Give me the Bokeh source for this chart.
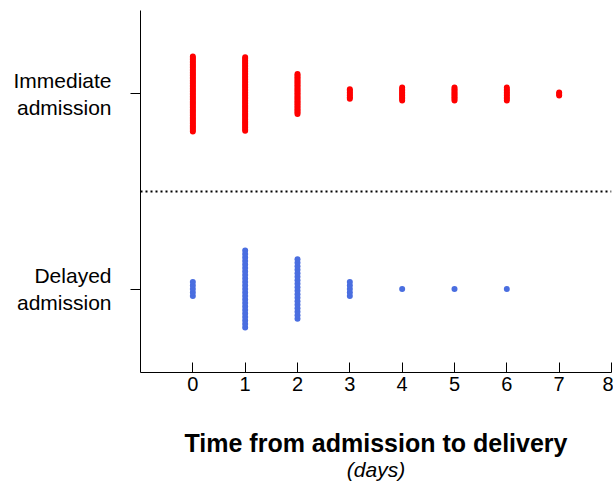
import numpy as np
from bokeh.plotting import figure
from bokeh.models import FixedTicker, Span, Title
from bokeh.embed import file_html
from bokeh.resources import INLINE

# Data: number of women per day (time from admission to delivery)
days = [0, 1, 2, 3, 4, 5, 6, 7]
immediate_counts = [48, 47, 26, 7, 9, 9, 9, 3]
delayed_counts = [5, 23, 18, 5, 1, 1, 1, 0]
group_labels = ["Immediate\nadmission", "Delayed\nadmission"]
group_pos = [1, -1]
x_ticks = [0, 1, 2, 3, 4, 5, 6, 7, 8]

FONT = "Liberation Sans"


def stack(counts, center, step):
    xs, ys = [], []
    for d, n in zip(days, counts):
        for i in range(n):
            xs.append(d)
            ys.append(center + (i - (n - 1) / 2) * step)
    return xs, ys


p = figure(width=613, height=483, x_range=(-1, 8), y_range=(-1.856, 1.856),
           output_backend="svg", toolbar_location=None,
           min_border_left=140, min_border_right=2, min_border_top=10,
           min_border_bottom=111)
p.outline_line_color = None
p.grid.visible = False
p.background_fill_color = "white"

xi, yi = stack(immediate_counts, group_pos[0], 0.0164)
xd, yd = stack(delayed_counts, group_pos[1], 0.0359)
p.scatter(x=xi, y=yi, size=6, color="#ff0000", line_width=0)
p.scatter(x=xd, y=yd, size=6, color="#4a6ee0", line_width=0)

p.add_layout(Span(location=0, dimension="width", line_color="black",
                  line_width=2, line_dash="2 3"))

# x axis
xa = p.xaxis[0]
xa.ticker = FixedTicker(ticks=x_ticks)
xa.minor_tick_line_color = None
xa.major_tick_in = 10
xa.major_tick_out = 0
xa.major_label_standoff = 4
xa.major_label_text_font = FONT
xa.major_label_text_font_size = "20px"
xa.major_label_text_color = "black"
xa.axis_line_color = "black"
xa.major_tick_line_color = "black"
xa.axis_label = "Time from admission to delivery"
xa.axis_label_text_font = FONT
xa.axis_label_text_font_size = "25px"
xa.axis_label_text_font_style = "bold"
xa.axis_label_text_color = "black"
xa.axis_label_standoff = 35

p.add_layout(Title(text="(days)", align="center", text_font=FONT,
                   text_font_size="21px", text_font_style="italic",
                   text_color="black", standoff=-8), "below")

# y axis
ya = p.yaxis[0]
ya.ticker = FixedTicker(ticks=group_pos)
ya.major_label_overrides = {group_pos[0]: group_labels[0], group_pos[1]: group_labels[1]}
ya.minor_tick_line_color = None
ya.major_tick_in = 0
ya.major_tick_out = 10
ya.major_label_standoff = 19
ya.major_label_text_font = FONT
ya.major_label_text_font_size = "21px"
ya.major_label_text_color = "black"
ya.major_label_text_align = "center"
ya.axis_line_color = "black"
ya.major_tick_line_color = "black"

open("out.html", "w").write(file_html(p, INLINE))
